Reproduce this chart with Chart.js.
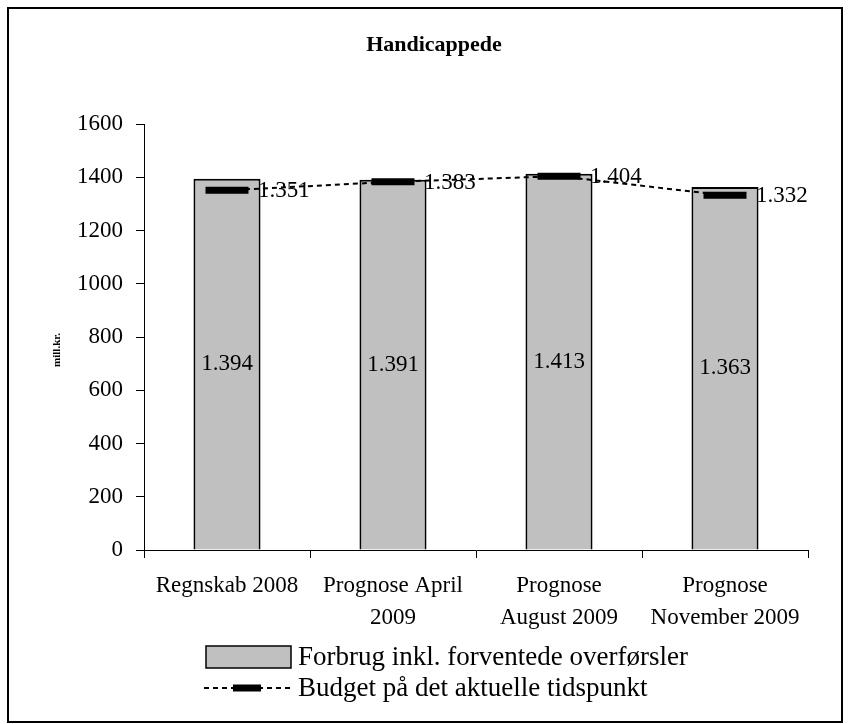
<!DOCTYPE html>
<html>
<head>
<meta charset="utf-8">
<script src="https://cdn.jsdelivr.net/npm/chart.js@4/dist/chart.umd.min.js"></script>
<style>
html,body{margin:0;padding:0;background:#fff;}
#wrap{position:relative;width:849px;height:724px;}
</style>
</head>
<body>
<div id="wrap"><canvas id="c" width="849" height="724"></canvas></div>
<script>
const chartTitle = 'Handicappede';
const yAxisLabel = 'mill.kr.';
const categories = [['Regnskab 2008'], ['Prognose April', '2009'], ['Prognose', 'August 2009'], ['Prognose', 'November 2009']];
const seriesNames = ['Forbrug inkl. forventede overførsler', 'Budget på det aktuelle tidspunkt'];
const forbrug = [1394, 1391, 1413, 1363];
const budget = [1351, 1383, 1404, 1332];
const yTicks = [0, 200, 400, 600, 800, 1000, 1200, 1400, 1600];

const SERIF = '"Liberation Serif", "Times New Roman", Times, serif';
const fmt = n => String(n).replace(/\B(?=(\d{3})+(?!\d))/g, '.');

const decorPlugin = {
  id: 'decor',
  beforeDraw(chart) {
    const ctx = chart.ctx;
    ctx.save();
    ctx.fillStyle = '#fff';
    ctx.fillRect(0, 0, chart.width, chart.height);
    ctx.restore();
  },
  afterDraw(chart) {
    const ctx = chart.ctx;
    ctx.save();
    // outer border
    ctx.strokeStyle = '#000';
    ctx.lineWidth = 2;
    ctx.strokeRect(8, 8, 834, 714);
    // title
    ctx.fillStyle = '#000';
    ctx.font = 'bold 22px ' + SERIF;
    ctx.textAlign = 'center';
    ctx.textBaseline = 'middle';
    ctx.fillText(chartTitle, 434, 45);
    // y axis label
    ctx.save();
    ctx.translate(57, 350);
    ctx.rotate(-Math.PI / 2);
    ctx.font = 'bold 11px ' + SERIF;
    ctx.fillText(yAxisLabel, 0, 0);
    ctx.restore();
    // data labels
    const barMeta = chart.getDatasetMeta(0);
    ctx.font = '23px ' + SERIF;
    ctx.textAlign = 'center';
    ctx.textBaseline = 'middle';
    barMeta.data.forEach((el, i) => {
      const mid = (el.y + el.base) / 2;
      ctx.fillText(fmt(forbrug[i]), el.x, mid);
    });
    const lineMeta = chart.getDatasetMeta(1);
    ctx.textAlign = 'left';
    lineMeta.data.forEach((el, i) => {
      ctx.fillText(fmt(budget[i]), el.x + 31, el.y + 1);
    });
    // legend
    ctx.font = '27px ' + SERIF;
    ctx.textBaseline = 'middle';
    ctx.fillStyle = '#C0C0C0';
    ctx.fillRect(206, 646, 85, 22);
    ctx.strokeStyle = '#000';
    ctx.lineWidth = 1.5;
    ctx.strokeRect(206, 646, 85, 22);
    ctx.fillStyle = '#000';
    ctx.fillText(seriesNames[0], 298, 658);
    ctx.setLineDash([5, 4]);
    ctx.lineWidth = 2;
    ctx.beginPath();
    ctx.moveTo(204, 688);
    ctx.lineTo(292, 688);
    ctx.stroke();
    ctx.setLineDash([]);
    ctx.lineWidth = 7;
    ctx.beginPath();
    ctx.moveTo(233, 688);
    ctx.lineTo(261, 688);
    ctx.stroke();
    ctx.fillText(seriesNames[1], 298, 689);
    ctx.restore();
  }
};

new Chart(document.getElementById('c'), {
  data: {
    labels: categories,
    datasets: [
      {
        type: 'bar',
        label: seriesNames[0],
        data: forbrug,
        backgroundColor: '#C0C0C0',
        borderColor: '#000',
        borderWidth: 2,
        barPercentage: 0.404,
        categoryPercentage: 1,
        order: 2
      },
      {
        type: 'line',
        label: seriesNames[1],
        data: budget,
        borderColor: '#000',
        borderWidth: 2,
        borderDash: [5, 4],
        tension: 0,
        fill: false,
        pointStyle: 'line',
        pointRadius: 21.5,
        pointBorderWidth: 7,
        pointBorderColor: '#000',
        pointBackgroundColor: '#000',
        order: 1
      }
    ]
  },
  options: {
    responsive: false,
    animation: false,
    events: [],
    layout: { padding: { left: 8, right: 41, top: 124, bottom: 94 } },
    plugins: {
      legend: { display: false },
      title: { display: false },
      tooltip: { enabled: false }
    },
    scales: {
      x: {
        offset: true,
        grid: { display: true, drawOnChartArea: false, drawTicks: true, tickLength: 8, color: '#000', offset: true },
        border: { display: true, color: '#000', width: 1 },
        ticks: { color: '#000', font: { family: SERIF, size: 23, lineHeight: 1.4 }, padding: 12, maxRotation: 0, autoSkip: false },
        afterFit(s) { s.height = 80; }
      },
      y: {
        min: yTicks[0],
        max: yTicks[yTicks.length - 1],
        afterBuildTicks(s) { s.ticks = yTicks.map(v => ({ value: v })); },
        grid: { display: true, drawOnChartArea: false, drawTicks: true, tickLength: 8, color: '#000' },
        border: { display: true, color: '#000', width: 1 },
        ticks: { color: '#000', font: { family: SERIF, size: 23 }, padding: 13, callback: v => String(v) },
        afterFit(s) { s.width = 136; }
      }
    }
  },
  plugins: [decorPlugin]
});
</script>
</body>
</html>
